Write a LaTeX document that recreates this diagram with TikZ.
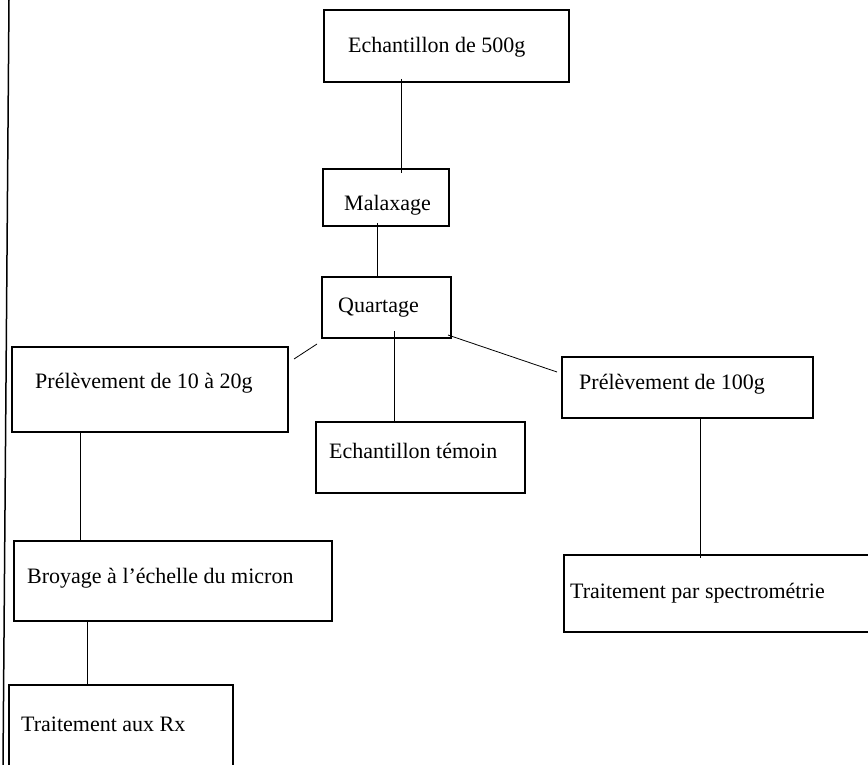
\documentclass[tikz,border=0pt]{standalone}
\usepackage{fontspec}
\setmainfont{Liberation Serif}[Ligatures=ResetAll]
\begin{document}
\begin{tikzpicture}[x=1pt,y=-1pt,
  box/.style={draw=black, line width=1.3pt, rectangle, inner sep=0pt, outer sep=0pt},
  txt/.style={anchor=base west, inner sep=0pt, font=\fontsize{22}{26}\selectfont},
  link/.style={draw=black, line width=0.8pt}]
\useasboundingbox (0,0) rectangle (868,765);
\clip (0,0) rectangle (868,765);
% left border
\coordinate (bt) at (9,0);
\coordinate (bb) at (3,765);
\draw[line width=1.5pt] (bt) -- (bb);
% boxes
\node[box, minimum width=245, minimum height=72] (b1) at (446.5,46) {};
\node[box, minimum width=126, minimum height=57] (malax) at (386,197.5) {};
\node[box, minimum width=129, minimum height=61] (quart) at (386.5,307.5) {};
\node[box, minimum width=276, minimum height=85] (p10) at (150,389.5) {};
\node[box, minimum width=209, minimum height=71] (temoin) at (420.5,457.5) {};
\node[box, minimum width=251, minimum height=61] (p100) at (687.5,387.5) {};
\node[box, minimum width=318, minimum height=80] (broy) at (173,581) {};
\node[box, minimum width=336, minimum height=77] (spec) at (732,593.5) {};
\node[box, minimum width=224, minimum height=115] (rx) at (121,742.5) {};
% texts
\node[txt] (t1) at (348,53) {Echantillon de 500g};
\node[txt] (t2) at (344,211) {Malaxage};
\node[txt] (t3) at (338,312) {Quartage};
\node[txt] (t4) at (35,388) {Prélèvement de 10 à 20g};
\node[txt] (t5) at (329,458) {Echantillon témoin};
\node[txt] (t6) at (579,389) {Prélèvement de 100g};
\node[txt] (t7) at (27,583) {Broyage à l'échelle du micron};
\node[txt] (t8) at (570,598) {Traitement par spectrométrie};
\node[txt] (t9) at (21,731) {Traitement aux Rx};
% connectors
\draw[link] ([yshift=3]b1.south -| 401,0) -- ([yshift=-4]malax.north -| 401,0);
\draw[link] ([yshift=3]malax.south -| 377,0) -- (quart.north -| 377,0);
\draw[link] ([shift={(-5,6)}]quart.south west) -- ([shift={(6,12)}]p10.north east);
\draw[link] ([yshift=7]quart.south -| 394,0) -- (temoin.north -| 394,0);
\draw[link] ([shift={(-3,-3)}]quart.south east) -- ([shift={(-5,15)}]p100.north west);
\draw[link] (p10.south -| 80,0) -- (broy.north -| 80,0);
\draw[link] (broy.south -| 87,0) -- (rx.north -| 87,0);
\draw[link] (p100.south -| 700,0) -- ([yshift=-3]spec.north -| 700,0);
\end{tikzpicture}
\end{document}
